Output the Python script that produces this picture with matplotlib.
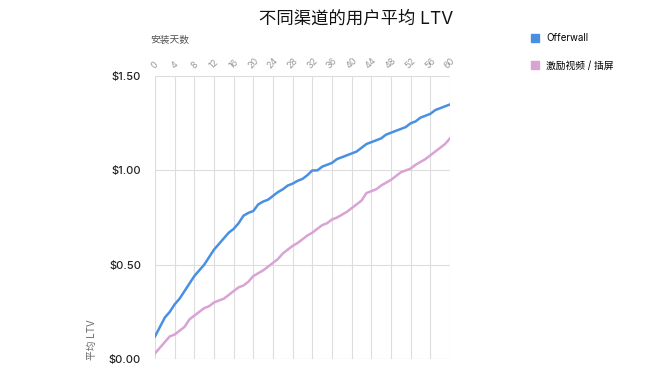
import numpy as np
import matplotlib
matplotlib.use('Agg')
import matplotlib.pyplot as plt
from matplotlib.lines import Line2D

plt.rcParams['font.family'] = ['Inter', 'Noto Sans CJK SC', 'DejaVu Sans']

# data
days = list(range(61))
offerwall = [0.12, 0.17, 0.22, 0.25, 0.29, 0.32, 0.36, 0.40, 0.44, 0.47,
             0.50, 0.54, 0.58, 0.61, 0.64, 0.67, 0.69, 0.72, 0.76, 0.775,
             0.785, 0.82, 0.835, 0.845, 0.865, 0.885, 0.90, 0.92, 0.93, 0.945,
             0.955, 0.975, 1.00, 1.00, 1.02, 1.03, 1.04, 1.06, 1.07, 1.08,
             1.09, 1.10, 1.12, 1.14, 1.15, 1.16, 1.17, 1.19, 1.20, 1.21,
             1.22, 1.23, 1.25, 1.26, 1.28, 1.29, 1.30, 1.32, 1.33, 1.34, 1.35]
video = [0.03, 0.06, 0.09, 0.12, 0.13, 0.15, 0.17, 0.21, 0.23, 0.25,
         0.27, 0.28, 0.30, 0.31, 0.32, 0.34, 0.36, 0.38, 0.39, 0.41,
         0.44, 0.455, 0.47, 0.49, 0.51, 0.53, 0.56, 0.58, 0.60, 0.615,
         0.635, 0.655, 0.67, 0.69, 0.71, 0.72, 0.74, 0.75, 0.765, 0.78,
         0.80, 0.82, 0.84, 0.88, 0.89, 0.90, 0.92, 0.935, 0.95, 0.97,
         0.99, 1.00, 1.01, 1.03, 1.045, 1.06, 1.08, 1.10, 1.12, 1.14, 1.17]
series_names = ['Offerwall', '激励视频 / 插屏']
series_colors = ['#4a90e2', '#d9a3d5']
x_ticks = list(range(0, 61, 4))
y_ticks = [0.0, 0.5, 1.0, 1.5]
y_labels = ['$0.00', '$0.50', '$1.00', '$1.50']

fig = plt.figure(figsize=(6.69, 3.77), dpi=100)
ax = fig.add_axes([0.2317, 0.0477, 0.4409, 0.7503])

ax.plot(days, offerwall, color=series_colors[0], linewidth=1.8)
ax.plot(days, video, color=series_colors[1], linewidth=1.8)

ax.set_xlim(0, 60)
ax.set_ylim(0, 1.5)
ax.set_xticks(x_ticks)
ax.set_yticks(y_ticks)
ax.set_yticklabels(y_labels, fontsize=8, color='#222222', fontweight='medium')
ax.xaxis.tick_top()
ax.set_xticklabels([str(t) for t in x_ticks], rotation=45, fontsize=6.5,
                   color='#999999', ha='center', va='bottom')
ax.tick_params(axis='both', length=0)
ax.tick_params(axis='y', pad=10)
ax.tick_params(axis='x', pad=4)
ax.grid(True, color='#dddddd', linewidth=0.8)
ax.set_axisbelow(True)
for s in ax.spines.values():
    s.set_visible(False)
ax.axhline(0, color='#dddddd', linewidth=0.8, zorder=0)

fig.text(0.532, 0.948, '不同渠道的用户平均 LTV', fontsize=12.5, ha='center',
         va='center', color='#111111')
fig.text(0.224, 0.893, '安装天数', fontsize=7, color='#555555', va='center')
fig.text(0.137, 0.045, '平均 LTV', fontsize=7, color='#666666', rotation=90,
         ha='center', va='bottom')

handles = [Line2D([], [], marker='s', linestyle='none', markersize=6,
                  color=c) for c in series_colors]
fig.legend(handles, series_names, loc='upper left',
           bbox_to_anchor=(0.78, 0.935), frameon=False, fontsize=7,
           labelspacing=1.8, handletextpad=0.6, handlelength=1)

fig.savefig('out.png', dpi=100)
